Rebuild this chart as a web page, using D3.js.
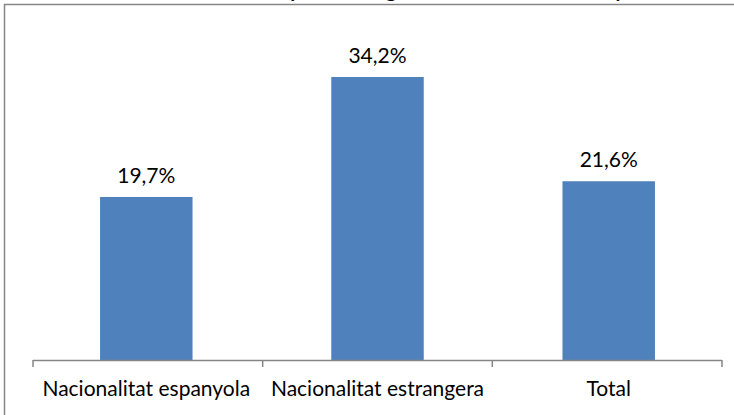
<!DOCTYPE html>
<html>
<head>
<meta charset="utf-8">
<script src="https://cdn.jsdelivr.net/npm/d3@7"></script>
<style>
  html, body { margin: 0; padding: 0; background: #fff; }
  svg { display: block; }
  text { font-family: Lato, "Open Sans", sans-serif; fill: #000; }
</style>
</head>
<body>
<svg id="chart" width="734" height="415"></svg>
<script>
// Taxa de risc de pobresa segons nacionalitat
const categories = ["Nacionalitat espanyola", "Nacionalitat estrangera", "Total"];
const values = [19.7, 34.2, 21.6];
const valueLabels = ["19,7%", "34,2%", "21,6%"];
const titleText = "Taxa de risc de pobresa segons nacionalitat. Catalunya";

const svg = d3.select("#chart");
const W = 734, H = 415;

// outer chart frame (extends past the right and bottom edges)
svg.append("rect")
  .attr("x", 4.5).attr("y", 4.5)
  .attr("width", W + 20).attr("height", H + 20)
  .attr("fill", "#fff")
  .attr("stroke", "#868686")
  .attr("stroke-width", 1.5);

// title, sitting mostly above the visible area
svg.append("text")
  .attr("x", 395).attr("y", -3)
  .attr("text-anchor", "middle")
  .attr("font-weight", "bold")
  .attr("font-size", 20)
  .text(titleText);

const left = 33, right = 722, baseline = 360;

const x = d3.scaleBand()
  .domain(categories)
  .range([left, right])
  .paddingInner(0.6)
  .paddingOuter(0.29);

const y = d3.scaleLinear()
  .domain([0, 40])
  .range([baseline, 29]);

// bars
svg.append("g").selectAll("rect")
  .data(categories)
  .join("rect")
  .attr("x", d => x(d))
  .attr("y", (d, i) => y(values[i]))
  .attr("width", x.bandwidth())
  .attr("height", (d, i) => baseline - y(values[i]))
  .attr("fill", "#4f81bd");

// value labels
svg.append("g").selectAll("text")
  .data(categories)
  .join("text")
  .attr("x", d => x(d) + x.bandwidth() / 2)
  .attr("y", (d, i) => y(values[i]) - 14)
  .attr("text-anchor", "middle")
  .attr("font-size", 21)
  .text((d, i) => valueLabels[i]);

// category axis with boundary ticks between groups
const axisG = svg.append("g");
axisG.append("line")
  .attr("x1", left).attr("x2", right)
  .attr("y1", baseline + 0.5).attr("y2", baseline + 0.5)
  .attr("stroke", "#868686").attr("stroke-width", 1.5);

const step = (right - left) / categories.length;
const tickPos = d3.range(categories.length + 1).map(i => left + i * step);
axisG.selectAll("line.tick")
  .data(tickPos)
  .join("line")
  .attr("class", "tick")
  .attr("x1", d => d).attr("x2", d => d)
  .attr("y1", baseline).attr("y2", baseline + 7)
  .attr("stroke", "#868686").attr("stroke-width", 1.5);

axisG.selectAll("text")
  .data(categories)
  .join("text")
  .attr("x", d => x(d) + x.bandwidth() / 2)
  .attr("y", 396)
  .attr("text-anchor", "middle")
  .attr("font-size", 21)
  .text(d => d);
</script>
</body>
</html>
